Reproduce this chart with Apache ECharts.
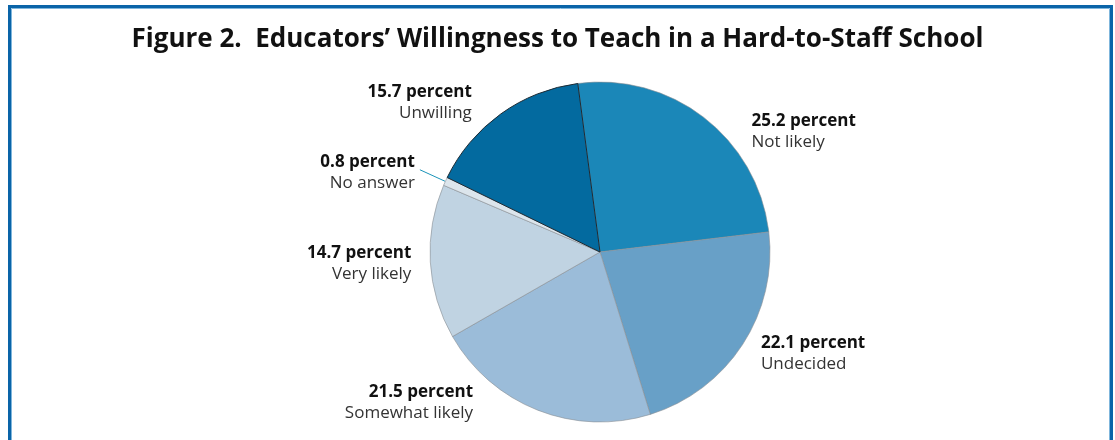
<!DOCTYPE html>
<html>
<head>
<meta charset="utf-8">
<script src="https://cdn.jsdelivr.net/npm/echarts@6/dist/echarts.min.js"></script>
<style>
  html, body { margin: 0; padding: 0; background: #fff; }
  #chart { width: 1115px; height: 440px; }
</style>
</head>
<body>
<div id="chart"></div>
<script>
// slices, clockwise from the top
const categories = ['Not likely', 'Undecided', 'Somewhat likely', 'Very likely', 'No answer', 'Unwilling'];
const percents = [25.2, 22.1, 21.5, 14.7, 0.8, 15.7];
const colors = ['#1b87b8', '#68a0c7', '#9bbcd9', '#c0d3e2', '#dce5ec', '#036a9f'];
// nudges of each label from its default outside spot
const labelNudge = [[36, 22], [5, 4], [-56, -17], [-4, 1], [0, 3], [-18, -3]];

const chart = echarts.init(document.getElementById('chart'));

const data = categories.map((name, i) => {
  const item = {
    name,
    value: percents[i],
    itemStyle: { color: colors[i], borderColor: '#8a8f94', borderWidth: 0.6 }
  };
  if (name === 'Unwilling') {
    item.itemStyle.borderColor = '#1d2a33';
    item.itemStyle.borderWidth = 1;
    item.z2 = 5;
  }
  if (name === 'No answer') {
    item.labelLine = { show: true, length: 28, length2: 0, lineStyle: { color: '#1a93b8', width: 1 } };
  }
  return item;
});

chart.setOption({
  animation: false,
  title: {
    text: 'Figure 2.  Educators\u2019 Willingness to Teach in a Hard-to-Staff School',
    left: 'center',
    top: 22,
    textStyle: { fontFamily: 'Open Sans', fontWeight: 'bold', fontSize: 26, color: '#111' }
  },
  graphic: [{
    type: 'rect',
    shape: { x: 9.5, y: 6.5, width: 1102, height: 460 },
    style: { fill: 'none', stroke: '#0a64a8', lineWidth: 3 },
    silent: true
  }, {
    type: 'rect',
    shape: { x: 11.5, y: 8.5, width: 1098, height: 460 },
    style: { fill: 'none', stroke: '#7fb6dc', lineWidth: 1 },
    silent: true
  }],
  series: [{
    type: 'pie',
    center: [600, 252],
    radius: 170,
    startAngle: 97.5,
    clockwise: true,
    avoidLabelOverlap: false,
    data,
    label: {
      show: true,
      position: 'outside',
      distanceToLabelLine: 5,
      formatter: p => `{v|${p.value} percent}\n{n|${p.name}}`,
      rich: {
        v: { fontFamily: 'Open Sans', fontWeight: 'bold', fontSize: 17, color: '#111', lineHeight: 21 },
        n: { fontFamily: 'Open Sans', fontSize: 17, color: '#333', lineHeight: 21 }
      }
    },
    labelLine: { show: false, length: 10, length2: 0 },
    labelLayout: p => ({ dx: labelNudge[p.dataIndex][0], dy: labelNudge[p.dataIndex][1] })
  }]
});
</script>
</body>
</html>
